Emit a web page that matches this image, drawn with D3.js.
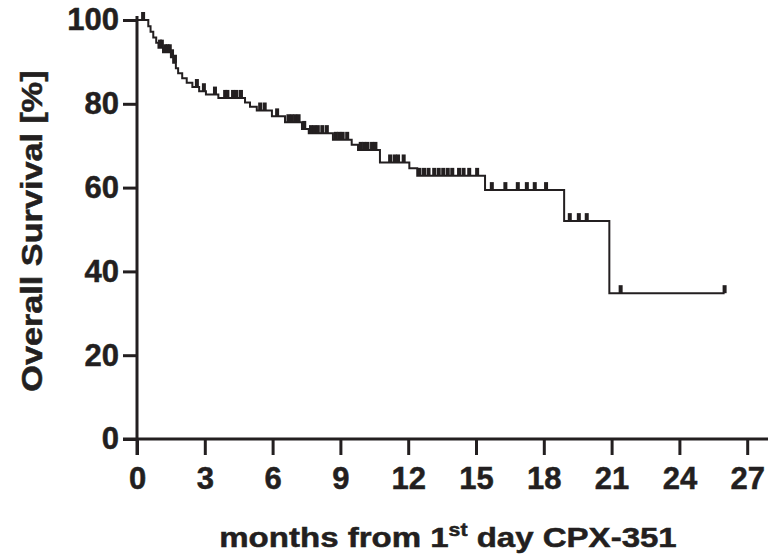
<!DOCTYPE html>
<html>
<head>
<meta charset="utf-8">
<script src="https://cdn.jsdelivr.net/npm/d3@7"></script>
<style>
  body { margin: 0; background: #fff; }
  svg { display: block; }
  text { font-family: "Liberation Sans", Arial, sans-serif; font-weight: bold; fill: #231f20;
         stroke: #231f20; stroke-width: 0.5px; }
</style>
</head>
<body>
<svg id="chart" width="768" height="556"></svg>
<script>
// Kaplan-Meier data
// event times (months) and survival (%) right after each drop
var eventMonths = [0.5, 0.6, 0.72, 0.85, 0.95, 1.15, 1.5, 1.6, 1.72, 1.82, 2.0, 2.2, 2.45, 2.75, 3.05, 3.6,
    4.78, 5.0, 5.3, 5.97, 6.55, 7.3, 7.6, 8.67, 9.5, 9.78, 10.75, 12.05, 12.4, 15.4, 18.9, 20.9]
var survival = [98.5, 97.2, 95.8, 94.6, 93.4, 92.3, 91.1, 89.8, 88.5, 87.3, 86.1, 85.0, 84.0, 83.0, 82.2, 81.4,
    80.3, 79.3, 78.4, 77.0, 75.6, 74.0, 73.0, 71.4, 70.2, 69.0, 66.0, 64.6, 62.8, 59.4, 52.0, 34.8]
// censored observations (months)
var censorMonths = [0.27, 1.02, 1.1, 1.25, 1.35, 1.45, 1.55, 1.68, 2.65, 2.96, 3.45, 3.9, 4.0, 4.25, 4.4, 4.6,
    5.45, 5.65, 6.2, 6.7, 6.85, 7.0, 7.15, 7.4, 7.7, 7.85, 8.0, 8.2, 8.4, 8.8, 8.95, 9.1, 9.3,
    9.9, 10.05, 10.2, 10.4, 10.55, 11.2, 11.4, 11.55, 11.8, 12.5, 12.7, 12.9, 13.15, 13.35, 13.55, 13.75, 13.95,
    14.25, 14.45, 14.7, 15.05, 15.7, 16.3, 16.85, 17.25, 17.6, 18.1, 19.15, 19.55, 19.9, 21.4, 26.0]
var lastFollowUp = 26.0

var xTicks = [0, 3, 6, 9, 12, 15, 18, 21, 24, 27]
var yTicks = [0, 20, 40, 60, 80, 100]

var svg = d3.select('#chart')
var ink = '#231f20'

var x = d3.scaleLinear().domain([0, 27]).range([137, 747.2])
var y = d3.scaleLinear().domain([0, 100]).range([439, 20])

// survival level at a given time
function survAt(t) {
    var s = 100
    for (var i = 0; i < eventMonths.length; i++) {
        if (eventMonths[i] <= t) s = survival[i]
    }
    return s
}

// axes
var xAxis = d3.axisBottom(x).tickValues(xTicks).tickSize(16).tickPadding(12).tickSizeOuter(0)
var yAxis = d3.axisLeft(y).tickValues(yTicks).tickSize(14).tickPadding(4).tickSizeOuter(0)

var gx = svg.append('g').attr('transform', 'translate(0,' + y(0) + ')').call(xAxis)
var gy = svg.append('g').attr('transform', 'translate(' + x(0) + ',0)').call(yAxis)

gx.select('.domain').attr('d', 'M' + (x(0) - 14) + ',0H768')
gy.select('.domain').attr('d', 'M0,' + (y(100) - 4) + 'V' + (y(0) + 16))

svg.selectAll('.domain, .tick line').attr('stroke', ink).attr('stroke-width', 3)
svg.selectAll('.tick text').style('font-size', '31px').attr('fill', ink).attr('stroke', ink)
gx.selectAll('.tick text').attr('dy', '0.71em')

// curve
var pts = [[0, 100]]
eventMonths.forEach(function (t, i) { pts.push([t, survival[i]]) })
pts.push([lastFollowUp, survival[survival.length - 1]])

var line = d3.line()
    .x(function (d) { return x(d[0]) })
    .y(function (d) { return y(d[1]) })
    .curve(d3.curveStepAfter)

svg.append('path')
    .datum(pts)
    .attr('d', line)
    .attr('fill', 'none')
    .attr('stroke', ink)
    .attr('stroke-width', 2)

// censor marks
svg.selectAll('.censor')
    .data(censorMonths)
    .enter()
    .append('rect')
    .attr('class', 'censor')
    .attr('x', function (d) { return x(d) - 2 })
    .attr('y', function (d) { return y(survAt(d)) - 8 })
    .attr('width', 4)
    .attr('height', 8)
    .attr('fill', ink)

// axis titles (the original lettering is wider than Arial, so stretch a bit)
var xt = svg.append('text')
    .attr('transform', 'translate(448,547) scale(1.18,1)')
    .attr('text-anchor', 'middle')
    .style('font-size', '28px')
xt.append('tspan').text('months from 1')
xt.append('tspan').text('st').attr('dy', -11).style('font-size', '18px')
xt.append('tspan').text(' day CPX-351').attr('dy', 11)

svg.append('text')
    .attr('transform', 'translate(42,231) rotate(-90) scale(1.18,1)')
    .attr('text-anchor', 'middle')
    .style('font-size', '29px')
    .text('Overall Survival [%]')
</script>
</body>
</html>
